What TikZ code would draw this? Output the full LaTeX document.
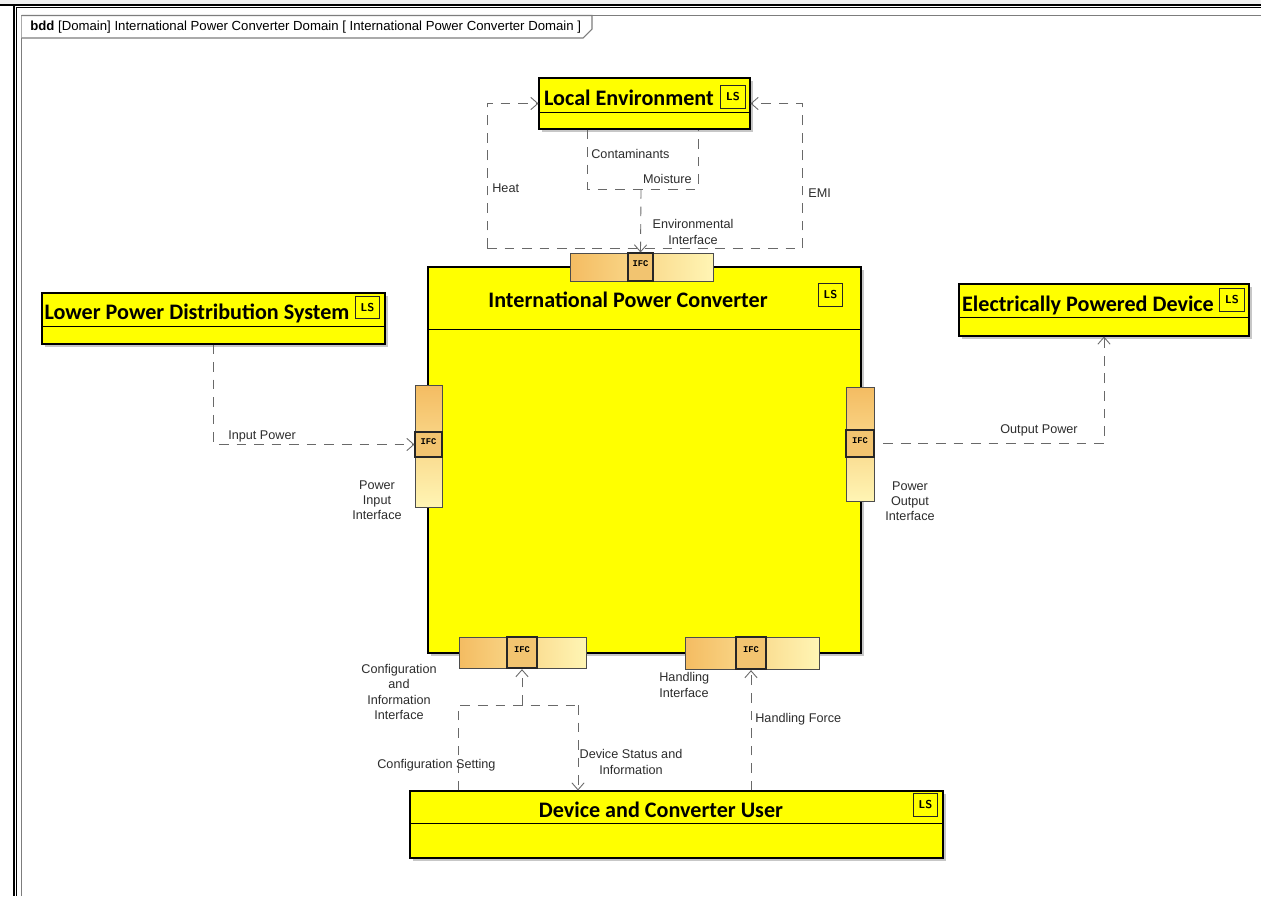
\documentclass[tikz,border=0pt]{standalone}
\usepackage{fontspec}
\setmainfont{Liberation Sans}
\setmonofont{Liberation Mono}
\newfontfamily\blockfont{Carlito}
\usepackage{xcolor}
\usetikzlibrary{fit,shadows,arrows.meta}
\definecolor{blockyellow}{RGB}{255,255,0}
\definecolor{portdark}{RGB}{244,188,98}
\definecolor{portlight}{RGB}{255,245,180}
\definecolor{ifcorange}{RGB}{242,196,112}
\definecolor{flowgray}{RGB}{105,105,105}
\definecolor{framegray}{RGB}{125,125,125}
\definecolor{stripgray}{RGB}{240,240,240}
\definecolor{labelgray}{RGB}{45,45,45}

\tikzset{
  block/.style={draw=black,line width=0.6pt,fill=blockyellow,inner sep=0pt,
    drop shadow={shadow xshift=1.5pt,shadow yshift=-1.5pt,fill=black,opacity=0.22}},
  blocktitle/.style={font=\blockfont\bfseries\fontsize{12.6}{15}\selectfont,inner sep=0pt},
  divider/.style={draw=black,line width=0.5pt},
  lsbox/.style={draw=black!85,line width=0.5pt,fill=blockyellow,minimum width=14pt,
    minimum height=13pt,inner sep=0pt,font=\sffamily\bfseries\fontsize{6.5}{7}\selectfont},
  porth/.style={draw=black!70,line width=0.5pt,inner sep=0pt,left color=portdark,right color=portlight},
  portv/.style={draw=black!70,line width=0.5pt,inner sep=0pt,top color=portdark,bottom color=portlight},
  ifc/.style={draw=black!85,line width=0.6pt,fill=ifcorange,inner sep=0pt,
    font=\ttfamily\bfseries\fontsize{5}{5}\selectfont},
  ifcbold/.style={ifc,line width=1.3pt},
  flow/.style={draw=flowgray,line width=0.5pt,dash pattern=on 5.5pt off 4.5pt},
  lbl/.style={font=\fontsize{7.2}{8.6}\selectfont,text=labelgray,inner sep=0pt,align=center},
}

\begin{document}
\begin{tikzpicture}[x=0.02cm,y=-0.02cm,>={Straight Barb[length=4pt,width=7pt]}]
  \useasboundingbox (0,0) rectangle (1261,896);

  % --- window frame ---
  \fill[white] (0,0) rectangle (1261,896);
  \fill[stripgray] (0,0) rectangle (1261,4.3);
  \draw[line width=0.8pt] (0,5) -- (1261,5);
  \draw[line width=0.6pt] (14,5) -- (14,896);
  \draw[line width=0.6pt] (16.5,896) -- (16.5,7.6) -- (1261,7.6);

  % --- diagram frame and heading tab ---
  \draw[framegray,line width=0.6pt] (21.5,896) -- (21.5,15.5) -- (1261,15.5);
  \draw[framegray,line width=0.6pt,fill=white]
    (21.5,15.5) -- (592,15.5) -- (592,29) -- (583,38) -- (21.5,38);
  \node[lbl,anchor=base west,text=black,font=\fontsize{7.5}{9}\selectfont] (heading) at (30,30.7)
    {\textbf{bdd} [Domain] International Power Converter Domain [ International Power Converter Domain ]};

  % --- blocks ---
  \node[block,fit={(428,267) (861,653)}] (ipc) {};
  \node[block,fit={(539,78) (750,129)}] (le) {};
  \node[block,fit={(42,293) (385,344)}] (lpds) {};
  \node[block,fit={(959,284) (1249,336)}] (epd) {};
  \node[block,fit={(410,791) (943,858)}] (dcu) {};
  \foreach \xa/\xb/\y in {539/750/112, 428/861/329, 42/385/326, 959/1249/317, 410/943/823}
    \draw[divider] (\xa,\y) -- (\xb,\y);

  \node[blocktitle,anchor=base] (letitle) at (629,105) {Local Environment};
  \node[blocktitle,anchor=base] (ipctitle) at (628,307) {International Power Converter};
  \node[blocktitle,anchor=base] (lpdstitle) at (197,319) {Lower Power Distribution System};
  \node[blocktitle,anchor=base] (epdtitle) at (1088,311) {Electrically Powered Device};
  \node[blocktitle,anchor=base] (dcutitle) at (661,817) {Device and Converter User};

  \foreach \nm/\x/\y in {le/733/97, ipc/830.5/295, lpds/367.5/307.5, epd/1232/300, dcu/925.5/805}
    \node[lsbox] (ls\nm) at (\x,\y) {LS};

  % --- ports ---
  \node[porth,fit={(570,253) (713,281)}] (tport) {};
  \node[ifc,fit={(628,253) (653,281)}] (tifc) {IFC};
  \node[portv,fit={(415,385) (442,507)}] (lport) {};
  \node[ifc,fit={(415,432) (442,457)}] (lifc) {IFC};
  \node[portv,fit={(846,387) (874,501)}] (rport) {};
  \node[ifc,fit={(846,430) (874,457)}] (rifc) {IFC};
  \node[porth,fit={(459,637) (586,668)}] (blport) {};
  \node[ifcbold,fit={(507,637) (537,668)}] (blifc) {IFC};
  \node[porth,fit={(685,637) (819,669)}] (brport) {};
  \node[ifcbold,fit={(736,637) (766,669)}] (brifc) {IFC};

  % --- environment connectors ---
  \coordinate (heatbend) at (487,248);
  \coordinate (emibend) at (802,248);
  \coordinate (contbend) at (587,189);
  \coordinate (moistbend) at (698,189);
  \coordinate (envjoin) at (641,189);
  \draw[flow,->] (heatbend) |- (le.west);
  \draw[flow] (heatbend) -- (emibend);
  \draw[flow,->] (emibend) |- (le.east);
  \draw[flow] (le.south -| contbend) -- (contbend) -- (moistbend) -- (le.south -| moistbend);
  \draw[flow,->] (envjoin) -- (tifc.north);

  % --- power connectors ---
  \draw[flow,->] (lpds.south) |- (lifc.west);
  \draw[flow,->,shorten <=5pt] (rifc.east) -| (epd.south);

  % --- user connectors ---
  \coordinate (cfgbend) at (458,705);
  \coordinate (statbend) at (578,705);
  \draw[flow] (dcu.north -| cfgbend) -- (cfgbend) -- (statbend);
  \draw[flow,->] (statbend) -- (dcu.north -| statbend);
  \draw[flow,->] (blifc.south |- cfgbend) -- (blifc.south);
  \draw[flow,->] (dcu.north -| brifc.south) -- (brifc.south);

  % --- labels ---
  \node[lbl,anchor=base west] (heat) at (492,192) {Heat};
  \node[lbl,anchor=base west] (contam) at (591,158) {Contaminants};
  \node[lbl,anchor=base east] (moist) at (692,183) {Moisture};
  \node[lbl,anchor=base west] (emi) at (808,197) {EMI};
  \node[lbl] (envif) at (693,232) {Environmental\\Interface};
  \node[lbl,anchor=base west] (inpow) at (228,439) {Input Power};
  \node[lbl] (pinif) at (377,500) {Power\\Input\\Interface};
  \node[lbl,anchor=base west] (outpow) at (1000,433) {Output Power};
  \node[lbl] (poutif) at (910,501) {Power\\Output\\Interface};
  \node[lbl] (cfgif) at (399,692) {Configuration\\and\\Information\\Interface};
  \node[lbl,anchor=base west] (cfgset) at (377,768) {Configuration Setting};
  \node[lbl] (devstat) at (631,762) {Device Status and\\Information};
  \node[lbl,align=left,anchor=west] (handif) at (659,685) {Handling\\Interface};
  \node[lbl,anchor=base west] (handforce) at (755,722) {Handling Force};

\end{tikzpicture}
\end{document}
